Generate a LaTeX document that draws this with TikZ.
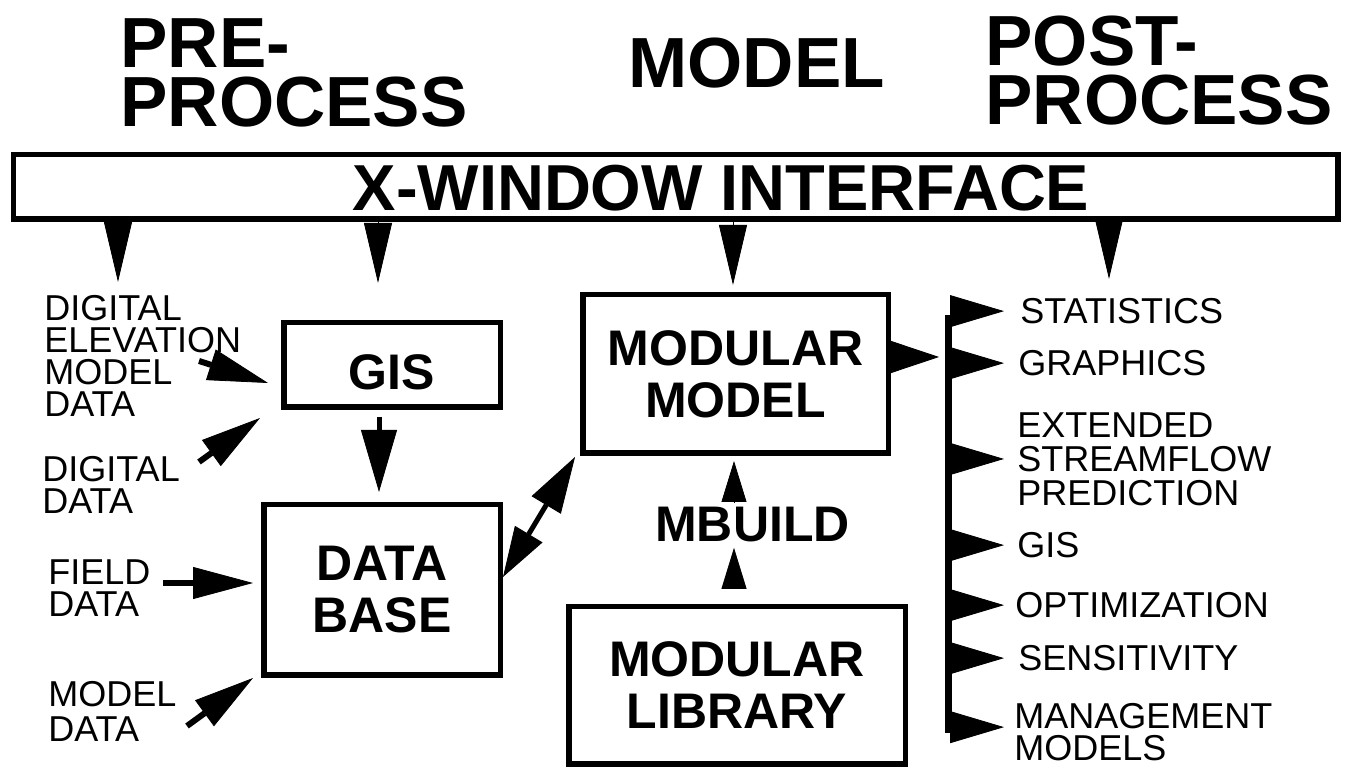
\documentclass[tikz,border=0pt]{standalone}
\usepackage{fontspec}
\setmainfont{Liberation Sans}
\usetikzlibrary{arrows.meta,calc}
\begin{document}
\begin{tikzpicture}[x=0.5pt,y=-0.5pt,
  box/.style={draw, line width=2.75pt, inner sep=0pt, align=center,
    font=\fontsize{25}{26}\selectfont\bfseries},
  hdr/.style={inner sep=0pt, align=left, anchor=north west,
    font=\fontsize{35.5}{29.5}\selectfont\bfseries},
  lbl/.style={inner sep=0pt, align=left, anchor=north west,
    font=\fontsize{18}{16}\selectfont},
  dtri/.style={line width=0.5pt, -{Triangle[length=30pt,width=14pt,line width=0.4pt]}},
  rtri/.style={line width=0.5pt, -{Triangle[length=27pt,width=16pt,line width=0.4pt]}},
  utri/.style={line width=0.5pt, -{Triangle[length=20.5pt,width=12.5pt,line width=0.4pt]}},
  inarr/.style={line width=3pt, -{Triangle[length=30pt,width=16pt,line width=0.4pt]}},
  gdarr/.style={line width=2.5pt, -{Triangle[length=31pt,width=18pt,line width=0.4pt]}},
  dblarr/.style={line width=2.5pt, {Triangle[length=25pt,width=16pt,line width=0.4pt]}-{Triangle[length=28pt,width=17pt,line width=0.4pt]}},
  barline/.style={line width=3.5pt}
]
\fill[white] (0,0) rectangle (1346,769);
\useasboundingbox (0,0) rectangle (1346,769);

% headings
\node[hdr] (pre) at (120,18) {PRE-\\PROCESS};
\node[hdr] (model) at (628,38) {MODEL};
\node[hdr] (post) at (985,16) {POST-\\PROCESS};

% X-window interface
\node[draw, line width=2.75pt, inner sep=0pt, minimum width=662.25pt, minimum height=32.25pt] (xwin) at (675.5,187) {};
\node[inner sep=0pt, font=\fontsize{32.5}{34}\selectfont\bfseries] (xwint) at (721,188.5) {X-WINDOW INTERFACE};

% boxes
\node[box, minimum width=108.25pt, minimum height=42.25pt, text height=25pt] (gis) at (392,365) {GIS};
\node[box, minimum width=118.25pt, minimum height=85.25pt] (db) at (382,590) {DATA\\BASE};
\node[box, minimum width=152.75pt, minimum height=79.25pt] (mm) at (735.5,374) {MODULAR\\MODEL};
\node[box, minimum width=168.25pt, minimum height=78.75pt] (lib) at (737,685.5) {MODULAR\\LIBRARY};
\node[inner sep=0pt, font=\fontsize{25}{26}\selectfont\bfseries] (mbuild) at (752.5,525) {MBUILD};

% left labels
\node[lbl] (dem) at (44,295) {DIGITAL\\ELEVATION\\MODEL\\DATA};
\node[lbl] (dd) at (42,456) {DIGITAL\\DATA};
\node[lbl] (fd) at (48,559) {FIELD\\DATA};
\node[lbl, font=\fontsize{18}{17.5}\selectfont] (md) at (48,681) {MODEL\\DATA};

% right labels
\node[lbl] (stat) at (1020,298) {STATISTICS};
\node[lbl] (graph) at (1018,350) {GRAPHICS};
\node[lbl, font=\fontsize{18}{17}\selectfont] (esp) at (1017,412) {EXTENDED\\STREAMFLOW\\PREDICTION};
\node[lbl] (gis2) at (1017,532) {GIS};
\node[lbl] (opt) at (1015,592) {OPTIMIZATION};
\node[lbl] (sens) at (1018,645) {SENSITIVITY};
\node[lbl] (mgmt) at (1014,703) {MANAGEMENT\\MODELS};

% down arrows from the X-window interface
\coordinate (d1) at (118,282);
\coordinate (d2) at (378,283);
\coordinate (d3) at (733,285);
\coordinate (d4) at (1109,279);
\foreach \d in {d1,d2,d3,d4} \draw[dtri] (\d |- xwin.south) -- (\d);

% inputs to GIS and data base
\coordinate (demS) at (199,361);
\coordinate (ddS) at (199,462);
\coordinate (fdS) at (163,583);
\coordinate (mdS) at (187,726);
\draw[inarr] (demS) -- ($(gis.west)+(-13,18)$);
\draw[inarr] (ddS) -- ($(gis.south west)+(-21,8)$);
\draw[inarr] (fdS) -- ($(db.west)+(-8,-7)$);
\draw[inarr] (mdS) -- ($(db.south west)+(-8,0)$);

% GIS -> data base
\coordinate (gdx) at (379,0);
\draw[gdarr, shorten <=3.5pt, shorten >=5pt] (gdx |- gis.south) -- (gdx |- db.north);

% data base <-> modular model
\draw[dblarr] ($(db.north east)+(0,75)$) -- ($(mm.south west)+(-5,1)$);

% modular library -> MBUILD -> modular model
\coordinate (bx) at (734,0);
\draw[utri, shorten <=8pt, shorten >=2.5pt] (bx |- lib.north) -- (bx |- mbuild.south);
\draw[utri, shorten <=2.5pt, shorten >=2.5pt] (bx |- mbuild.north) -- (bx |- mm.south);

% modular model -> post-process bar
\coordinate (bartop) at (948,315);
\coordinate (barbot) at (948,733);
\draw[barline] (bartop) -- (barbot);
\draw[rtri, -{Triangle[length=24pt,width=16pt,line width=0.4pt]}] ([yshift=8.5pt]mm.east) -- ++(24pt,0);

% bar -> outputs
\coordinate (barx) at (950,0);
\coordinate (tipx) at (1004,0);
\coordinate (mgy) at ([yshift=2.5pt]mgmt.west);
\foreach \n in {stat,graph,esp,gis2,opt,sens,mgy}
  \draw[rtri] (barx |- \n.west) -- (tipx |- \n.west);
\end{tikzpicture}
\end{document}
